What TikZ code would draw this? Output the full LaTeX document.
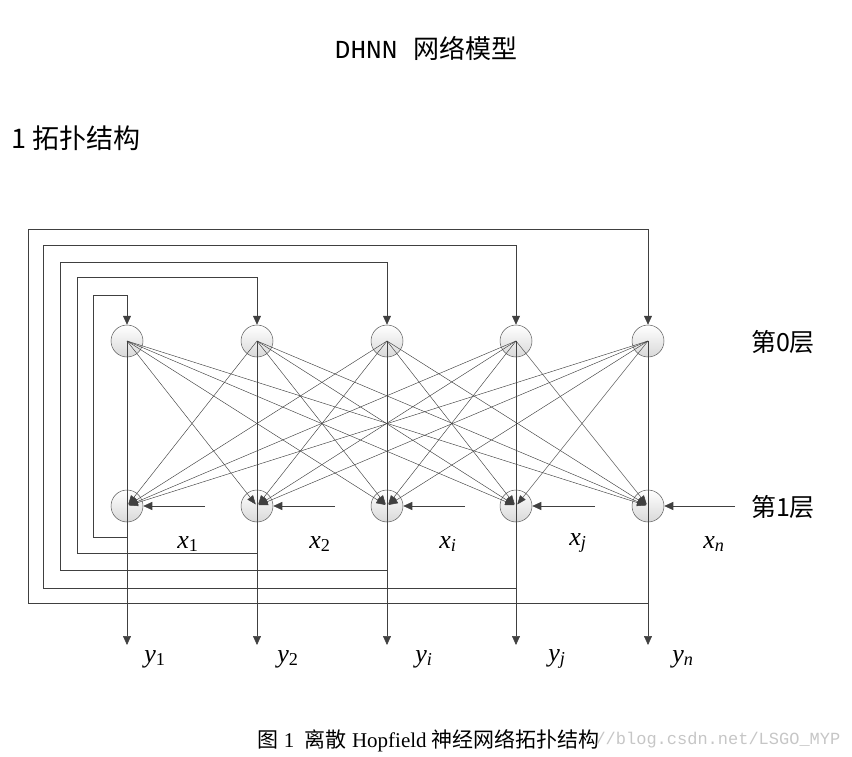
\documentclass[tikz,border=0pt]{standalone}
\usepackage{fontspec}
\setmainfont{Liberation Serif}
\newfontfamily\cjk{Noto Sans CJK SC}
\newfontfamily\monof{Liberation Mono}
\usetikzlibrary{arrows.meta}
\begin{document}
\begin{tikzpicture}[x=1pt,y=-1pt,
  neuron/.style={circle,draw=gray!70!black,line width=0.5pt,minimum size=32pt,inner sep=0pt,top color=white,bottom color=gray!30},
  wire/.style={draw=black!75,line width=0.6pt},
  arr/.style={wire,-{Triangle[length=9pt,width=8pt]}},
  lbl/.style={font=\itshape\fontsize{26}{26}\selectfont}]
\useasboundingbox (0,0) rectangle (852,757);
\node[font=\monof\fontsize{26}{26}\selectfont] (title) at (426,48) {DHNN {\cjk 网络模型}};
\node[anchor=west,font=\cjk\fontsize{27}{27}\selectfont] (sec) at (8,138) {1 拓扑结构};
\foreach \i/\x in {1/127,2/257,3/387,4/516,5/648}{
  \node[neuron] (t\i) at (\x,341) {};
  \node[neuron] (b\i) at (\x,506) {};
  \coordinate (tc\i) at (\x,341);
  \coordinate (bc\i) at (\x,506);
  \coordinate (o\i) at (\x,645);
}
\foreach \i in {1,...,5}{\foreach \j in {1,...,5}{
  \ifnum\i=\j\else
  \draw[wire,line width=0.45pt,-{Triangle[length=9pt,width=7pt]},shorten >=2pt] (tc\i) -- (bc\j);
  \fi}}
\foreach \i in {1,...,5}{
  \draw[arr] (tc\i) -- (o\i);
}
\foreach \i/\x/\yb/\xl/\yt in {1/127/537/93/295,2/257/553/77/277,3/387/570/60/262,4/516/588/43/245,5/648/603/28/229}{
  \coordinate (fb\i) at (\x,\yb);
  \coordinate (fl\i) at (\xl,\yb);
  \coordinate (fu\i) at (\xl,\yt);
  \coordinate (fr\i) at (\x,\yt);
  \draw[arr] (fb\i) -- (fl\i) -- (fu\i) -- (fr\i) -- (t\i.north);
}
\foreach \i/\x in {1/205,2/335,3/465,4/595,5/735}{
  \coordinate (in\i) at (\x,506);
  \draw[arr] (in\i) -- (b\i.east);
}
\node[lbl] (x1) at (188,544) {x\textsubscript{\upshape 1}};
\node[lbl] (x2) at (320,544) {x\textsubscript{\upshape 2}};
\node[lbl] (xi) at (448,544) {x\textsubscript{i}};
\node[lbl] (xj) at (578,543) {x\textsubscript{j}};
\node[lbl] (xn) at (714,544) {x\textsubscript{n}};
\node[lbl] (y1) at (155,659) {y\textsubscript{\upshape 1}};
\node[lbl] (y2) at (288,659) {y\textsubscript{\upshape 2}};
\node[lbl] (yi) at (424,659) {y\textsubscript{i}};
\node[lbl] (yj) at (557,659) {y\textsubscript{j}};
\node[lbl] (yn) at (683,659) {y\textsubscript{n}};
\node[font=\cjk\fontsize{25}{25}\selectfont] (l0) at (783,342) {第0层};
\node[font=\cjk\fontsize{25}{25}\selectfont] (l1) at (783,507) {第1层};
\node[anchor=west,font=\fontsize{21}{21}\selectfont] (cap) at (254,741) {{\cjk 图}~1~~{\cjk 离散} Hopfield {\cjk 神经网络拓扑结构}};
\node[anchor=west,text=gray!45,font=\monof\fontsize{17}{17}\selectfont] (wm) at (592,740) {//blog.csdn.net/LSGO\_MYP};
\end{tikzpicture}
\end{document}
